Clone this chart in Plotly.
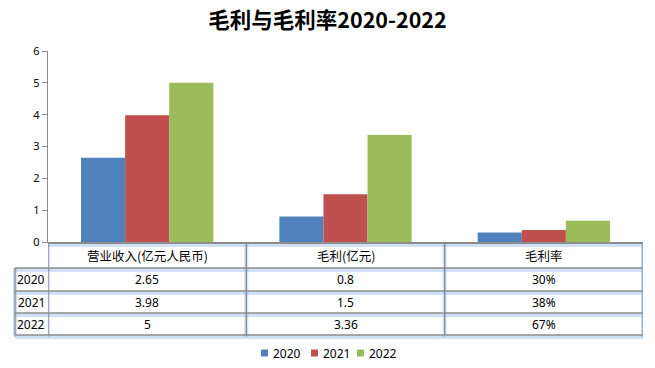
import plotly.graph_objects as go

categories = ["营业收入(亿元人民币)", "毛利(亿元)", "毛利率"]
years = ["2020", "2021", "2022"]
values_2020 = [2.65, 0.8, 0.30]
values_2021 = [3.98, 1.5, 0.38]
values_2022 = [5, 3.36, 0.67]
table_2020 = ["2.65", "0.8", "30%"]
table_2021 = ["3.98", "1.5", "38%"]
table_2022 = ["5", "3.36", "67%"]
y_ticks = [0, 1, 2, 3, 4, 5, 6]

colors = ["#4F81BD", "#C0504D", "#9BBB59"]
series = [values_2020, values_2021, values_2022]
table_rows = [table_2020, table_2021, table_2022]

# the page body adds an 8px offset; design in screen pixels and compensate
OFF = 8
W, H = 655 - OFF, 368 - OFF
L, R, T, B = 48 - OFF, 12, 51 - OFF, 126
PH = H - T - B
PW = W - L - R

def py(p):  # screen pixel y -> paper
    return (H - B - (p - OFF)) / PH

def px(p):  # screen pixel x -> paper
    return ((p - OFF) - L) / PW

fig = go.Figure()
for yr, vals, c in zip(years, series, colors):
    fig.add_trace(go.Bar(x=categories, y=vals, name=yr, showlegend=False,
                         marker=dict(color=c, line=dict(width=0))))

shapes = []
grid = "#8C8C8C"
glow = "rgba(120,170,225,0.35)"

def hline(x0, x1, y, xref, width=1.3):
    shapes.append(dict(type="line", xref=xref, yref="paper", x0=x0, x1=x1, y0=py(y + 2), y1=py(y + 2),
                       line=dict(color=glow, width=4), layer="below"))
    shapes.append(dict(type="line", xref=xref, yref="paper", x0=x0, x1=x1, y0=py(y), y1=py(y),
                       line=dict(color=grid, width=width)))

def vline(x, xref, y0, y1, width=1.3):
    shapes.append(dict(type="line", xref=xref, yref="paper", x0=x, x1=x, y0=py(y0), y1=py(y1 + 2),
                       line=dict(color=glow, width=4), layer="below"))
    shapes.append(dict(type="line", xref=xref, yref="paper", x0=x, x1=x, y0=py(y0), y1=py(y1),
                       line=dict(color=grid, width=width)))

row_edges = [243, 268, 291, 313, 335]
hline(-0.5, 2.5, row_edges[0], "x", width=2)
for ye in row_edges[1:]:
    hline(px(15), 1, ye, "paper")
for xb in [-0.5, 0.5, 1.5, 2.5]:
    vline(xb, "x", row_edges[0], row_edges[-1])
vline(px(15), "paper", row_edges[1], row_edges[-1])

annotations = []
font_txt = dict(family="Noto Sans CJK SC", size=12.5, color="#000000")
font_num = dict(family="Noto Sans", size=12, color="#000000")
for i, cat in enumerate(categories):
    annotations.append(dict(x=cat, xref="x", y=py((row_edges[0] + row_edges[1]) / 2), yref="paper",
                            text=cat, showarrow=False, font=font_txt, xanchor="center", yanchor="middle"))
for r, (yr, row) in enumerate(zip(years, table_rows)):
    yc = py((row_edges[r + 1] + row_edges[r + 2]) / 2)
    annotations.append(dict(x=px(31), xref="paper", y=yc, yref="paper", text=yr, showarrow=False,
                            font=font_num, xanchor="center", yanchor="middle"))
    for cat, v in zip(categories, row):
        annotations.append(dict(x=cat, xref="x", y=yc, yref="paper", text=v, showarrow=False,
                                font=font_num, xanchor="center", yanchor="middle"))

# legend (manual, compact like the reference)
leg_sq = [261, 311, 357]
leg_y = 353
for x0, yr, c in zip(leg_sq, years, colors):
    shapes.append(dict(type="rect", xref="paper", yref="paper", x0=px(x0), x1=px(x0 + 7),
                       y0=py(leg_y + 3.5), y1=py(leg_y - 3.5), fillcolor=c, line=dict(width=0)))
    annotations.append(dict(x=px(x0 + 10), xref="paper", y=py(leg_y), yref="paper", text=yr,
                            showarrow=False, font=font_num, xanchor="left", yanchor="middle"))

fig.update_layout(
    width=W, height=H,
    margin=dict(l=L, r=R, t=T, b=B, pad=0, autoexpand=False),
    paper_bgcolor="white", plot_bgcolor="white",
    title=dict(text="<b>毛利与毛利率2020-2022</b>", x=0.5 + (655 / 2 - OFF - W / 2) / W, xanchor="center",
               y=1 - 5 / H, yref="container", yanchor="top",
               font=dict(family="Noto Sans CJK SC", size=21.5, color="#000000")),
    barmode="group", bargap=0.333, bargroupgap=0,
    showlegend=False,
    xaxis=dict(range=[-0.5, 2.5], showticklabels=False, ticks="", showline=True, linecolor=grid,
               linewidth=1, showgrid=False, zeroline=False),
    yaxis=dict(range=[0, 6], tickvals=y_ticks, showline=True, linecolor=grid, linewidth=1.3,
               ticks="outside", ticklen=5, tickcolor=grid, showgrid=False, zeroline=False,
               tickfont=dict(family="Noto Sans", size=11, color="#000000")),
    shapes=shapes, annotations=annotations,
)

fig.write_html("out.html")
